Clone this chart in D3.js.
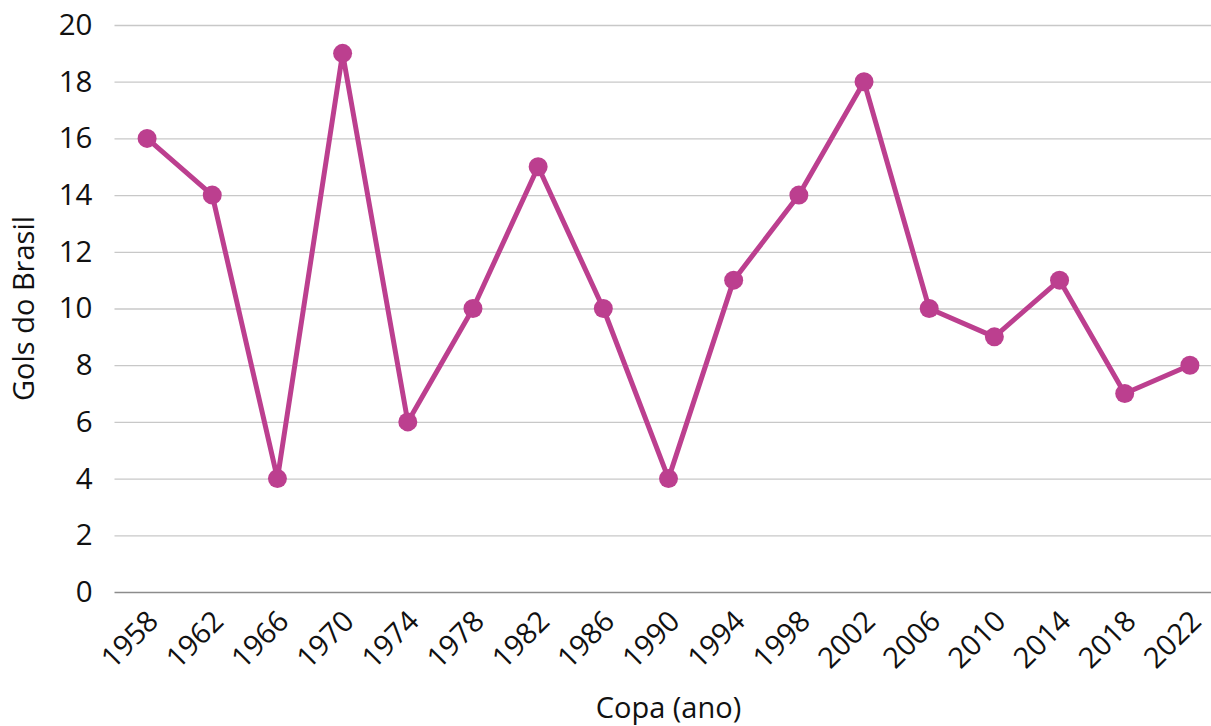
<!DOCTYPE html>
<html>
<head>
<meta charset="utf-8">
<script src="https://cdn.jsdelivr.net/npm/d3@7"></script>
<style>
  html, body { margin: 0; padding: 0; background: #fff; }
  svg { display: block; font-family: "Open Sans", sans-serif; }
</style>
</head>
<body>
<svg id="chart" width="1211" height="726"></svg>
<script>
// World Cup editions and Brazil's goals in each
const years = ["1958", "1962", "1966", "1970", "1974", "1978", "1982", "1986", "1990",
               "1994", "1998", "2002", "2006", "2010", "2014", "2018", "2022"];
const goals = [16, 14, 4, 19, 6, 10, 15, 10, 4, 11, 14, 18, 10, 9, 11, 7, 8];
const yTicks = [0, 2, 4, 6, 8, 10, 12, 14, 16, 18, 20];

const svg = d3.select("#chart");
const plotLeft = 114.5, plotRight = 1222.5, plotTop = 25, plotBottom = 592;

const x = d3.scaleBand().domain(years).range([plotLeft, plotRight]);
const y = d3.scaleLinear().domain([0, 20]).range([plotBottom, plotTop]);

// horizontal gridlines
svg.append("g")
  .selectAll("line")
  .data(yTicks.filter(d => d > 0))
  .join("line")
  .attr("x1", plotLeft).attr("x2", 1211)
  .attr("y1", d => y(d) + 0.5).attr("y2", d => y(d) + 0.5)
  .attr("stroke", "#c8c8c8").attr("stroke-width", 1.3);

// baseline
svg.append("line")
  .attr("x1", plotLeft).attr("x2", 1211)
  .attr("y1", y(0) + 0.5).attr("y2", y(0) + 0.5)
  .attr("stroke", "#8c8c8c").attr("stroke-width", 1.5);

// y tick labels
const yAxis = d3.axisLeft(y).tickValues(yTicks).tickSize(0).tickPadding(22);
svg.append("g")
  .attr("transform", `translate(${plotLeft},0)`)
  .call(yAxis)
  .call(g => g.select(".domain").remove())
  .selectAll("text")
  .attr("font-family", "'Open Sans', sans-serif")
  .attr("font-size", 29.5)
  .attr("fill", "#111");

// x tick labels, rotated
const xAxis = d3.axisBottom(x).tickSize(0).tickPadding(0);
svg.append("g")
  .attr("transform", `translate(0,${plotBottom})`)
  .call(xAxis)
  .call(g => g.select(".domain").remove())
  .selectAll("text")
  .attr("font-family", "'Open Sans', sans-serif")
  .attr("font-size", 29)
  .attr("fill", "#111")
  .attr("text-anchor", "end")
  .attr("dy", 0)
  .attr("transform", "translate(13,31) rotate(-45)");

// series line
const line = d3.line()
  .x((d, i) => x(years[i]) + x.bandwidth() / 2)
  .y(d => y(d));

const color = "#bc3f8f";
svg.append("path")
  .datum(goals)
  .attr("d", line)
  .attr("fill", "none")
  .attr("stroke", color)
  .attr("stroke-width", 5)
  .attr("stroke-linejoin", "round");

// markers
svg.append("g")
  .selectAll("circle")
  .data(goals)
  .join("circle")
  .attr("cx", (d, i) => x(years[i]) + x.bandwidth() / 2)
  .attr("cy", d => y(d))
  .attr("r", 9.5)
  .attr("fill", color);

// axis titles
svg.append("text")
  .attr("x", (plotLeft + plotRight) / 2)
  .attr("y", 718)
  .attr("text-anchor", "middle")
  .attr("font-size", 29)
  .attr("fill", "#111")
  .text("Copa (ano)");

svg.append("text")
  .attr("transform", `translate(33.5,${(plotTop + plotBottom) / 2}) rotate(-90)`)
  .attr("text-anchor", "middle")
  .attr("font-size", 29)
  .attr("fill", "#111")
  .text("Gols do Brasil");
</script>
</body>
</html>
